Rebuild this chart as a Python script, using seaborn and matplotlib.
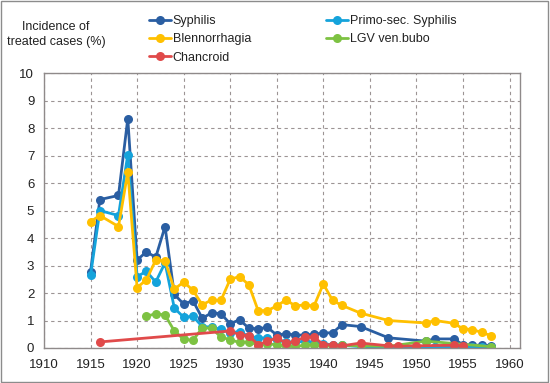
import numpy as np
import pandas as pd
import seaborn as sns
import matplotlib.pyplot as plt
from matplotlib.lines import Line2D
from matplotlib.patches import Rectangle

plt.switch_backend("Agg")

# years shared by the three main series
years = [1915, 1916, 1918, 1919, 1920, 1921, 1922, 1923, 1924, 1925, 1926, 1927,
         1928, 1929, 1930, 1931, 1932, 1933, 1934, 1935, 1936, 1937, 1938, 1939,
         1940, 1941, 1942, 1944, 1947, 1951, 1952, 1954, 1955, 1956, 1957, 1958]

syphilis = [2.78, 5.4, 5.55, 8.35, 3.2, 3.5, 3.3, 4.42, 1.95, 1.6, 1.72, 1.08,
            1.28, 1.25, 0.88, 1.03, 0.72, 0.7, 0.75, 0.47, 0.52, 0.47, 0.47, 0.5,
            0.55, 0.55, 0.85, 0.78, 0.37, 0.25, 0.33, 0.33, 0.12, 0.1, 0.1, 0.08]

primo_sec = [2.64, 5.0, 4.82, 7.04, 2.6, 2.79, 2.4, 3.1, 1.45, 1.12, 1.15, 0.78,
             0.76, 0.68, 0.55, 0.6, 0.42, 0.38, 0.35, 0.3, 0.22, 0.2, 0.25, 0.2,
             0.15, 0.12, 0.1, 0.05, 0.04, 0.05, 0.05, 0.05, 0.04, 0.04, 0.04, 0.04]

blenno = [4.6, 4.82, 4.42, 6.4, 2.2, 2.48, 3.2, 3.17, 2.14, 2.4, 2.1, 1.57,
          1.75, 1.73, 2.5, 2.6, 2.3, 1.36, 1.36, 1.53, 1.75, 1.53, 1.57, 1.53,
          2.33, 1.73, 1.55, 1.27, 1.0, 0.91, 1.0, 0.9, 0.7, 0.67, 0.57, 0.45]

lgv_years = [1921, 1922, 1923, 1924, 1925, 1926, 1927, 1928, 1929, 1930, 1931,
             1932, 1933, 1934, 1935, 1936, 1937, 1938, 1939, 1940, 1941, 1942,
             1944, 1947, 1951, 1958]
lgv = [1.15, 1.25, 1.2, 0.62, 0.32, 0.28, 0.73, 0.72, 0.4, 0.3, 0.2,
       0.22, 0.12, 0.15, 0.12, 0.08, 0.06, 0.1, 0.12, 0.06, 0.08, 0.1,
       0.08, 0.06, 0.25, 0.05]

chanc_years = [1916, 1930, 1931, 1932, 1933, 1934, 1935, 1936, 1937, 1938, 1939,
               1940, 1941, 1942, 1944, 1947, 1948, 1950, 1954, 1955]
chancroid = [0.22, 0.62, 0.48, 0.45, 0.12, 0.24, 0.37, 0.18, 0.24, 0.4, 0.4,
             0.12, 0.12, 0.08, 0.18, 0.08, 0.06, 0.08, 0.1, 0.08]

names = ["Syphilis", "Primo-sec. Syphilis", "Blennorrhagia", "LGV ven.bubo", "Chancroid"]
colors = {"Syphilis": "#2A5EA2", "Primo-sec. Syphilis": "#15A3DB",
          "Blennorrhagia": "#FFC000", "LGV ven.bubo": "#7DC242",
          "Chancroid": "#E04A4A"}

# long table for seaborn
parts = [
    pd.DataFrame({"year": years, "pct": syphilis, "disease": names[0]}),
    pd.DataFrame({"year": years, "pct": primo_sec, "disease": names[1]}),
    pd.DataFrame({"year": years, "pct": blenno, "disease": names[2]}),
    pd.DataFrame({"year": lgv_years, "pct": lgv, "disease": names[3]}),
    pd.DataFrame({"year": chanc_years, "pct": chancroid, "disease": names[4]}),
]
df = pd.concat(parts, ignore_index=True)

sns.set_style("white")
plt.rcParams["font.family"] = ["Liberation Sans", "DejaVu Sans"]

fig = plt.figure(figsize=(5.5, 3.83), dpi=100)
ax = fig.add_axes([0.08, 0.0914, 0.865, 0.7176])

sns.lineplot(data=df, x="year", y="pct", hue="disease", hue_order=names,
             palette=colors, marker="o", markersize=6.5, markeredgewidth=0,
             linewidth=2, estimator=None, ax=ax)
ax.get_legend().remove()

ax.set_xlim(1910, 1961.1)
ax.set_ylim(0, 10)
ax.set_xticks(np.arange(1910, 1961, 5))
ax.set_yticks(np.arange(0, 11, 1))
ax.set_xlabel("")
ax.set_ylabel("")
ax.grid(True, linestyle=(0, (3, 3)), color="#9c9494", linewidth=0.8)
for s in ax.spines.values():
    s.set_color("#8f8a8a")
    s.set_linewidth(1)
ax.tick_params(axis="both", direction="out", length=4, color="#8f8a8a",
               labelsize=9.5, pad=3, labelcolor="#222222")
ax.tick_params(axis="x", pad=4)

fig.text(0.102, 0.91, "Incidence of\ntreated cases (%)", ha="center",
         va="center", fontsize=9, color="#222222", linespacing=1.4)

handles = {n: Line2D([], [], color=colors[n], marker="o", markersize=6.5,
                     markeredgewidth=0, linewidth=2) for n in names}
order = ["Syphilis", "Blennorrhagia", "Chancroid", "Primo-sec. Syphilis", "LGV ven.bubo"]
fig.legend([handles[n] for n in order], order, ncol=2, loc="upper left",
           bbox_to_anchor=(0.25, 0.99), frameon=False, fontsize=9,
           handlelength=1.75, handletextpad=0.16, columnspacing=6.0,
           labelspacing=0.5, labelcolor="#222222")

fig.patches.append(Rectangle((0.002, 0.003), 0.995, 0.994, transform=fig.transFigure,
                             fill=False, edgecolor="#8c8c8c", linewidth=1))

plt.savefig("out.png", dpi=100)
